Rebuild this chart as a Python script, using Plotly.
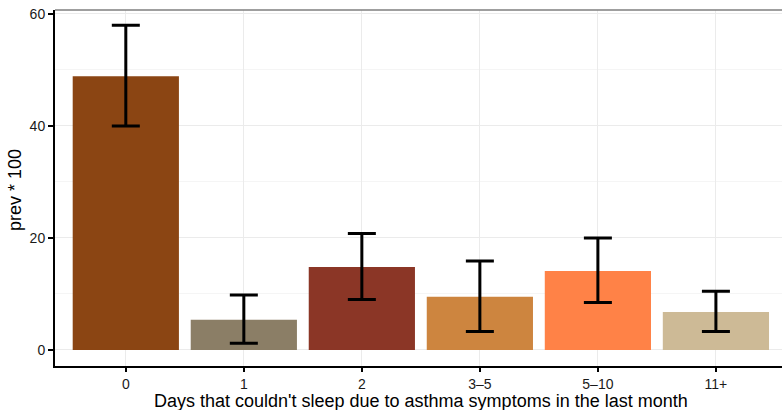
import plotly.graph_objects as go

categories = ["0", "1", "2", "3\u20135", "5\u201310", "11+"]
prev = [48.9, 5.4, 14.8, 9.5, 14.1, 6.8]
lower = [40.0, 1.2, 9.0, 3.3, 8.5, 3.3]
upper = [58.0, 9.8, 20.8, 15.9, 20.0, 10.5]
colors = ["#8B4513", "#8B7E66", "#8B3626", "#CD853F", "#FF8247", "#CDBA96"]

err_plus = [u - p for u, p in zip(upper, prev)]
err_minus = [p - l for p, l in zip(prev, lower)]

fig = go.Figure()
fig.add_trace(go.Bar(
    x=list(range(len(categories))), y=prev,
    marker=dict(color=colors, line=dict(width=0)),
    width=0.9,
    error_y=dict(type="data", symmetric=False, array=err_plus, arrayminus=err_minus,
                 color="black", thickness=3, width=14),
    showlegend=False,
))

font_family = "Liberation Sans, Arial, sans-serif"
fig.update_layout(
    width=782, height=410,
    margin=dict(l=55, r=0, t=10, b=44, autoexpand=False),
    plot_bgcolor="white", paper_bgcolor="white",
    font=dict(family=font_family, size=14, color="#1a1a1a"),
    xaxis=dict(
        range=[-0.6, 5.56], automargin=False,
        tickmode="array", tickvals=list(range(len(categories))), ticktext=categories,
        showgrid=True, gridcolor="#ebebeb", gridwidth=1,
        showline=True, linecolor="black", linewidth=2,
        ticks="outside", ticklen=4, tickwidth=1.5, tickcolor="black",
        zeroline=False,
        tickfont=dict(size=14, color="#1a1a1a"),
    ),
    yaxis=dict(
        range=[-2.86, 60.71], automargin=False,
        tickmode="array", tickvals=[0, 20, 40, 60],
        showgrid=True, gridcolor="#ebebeb", gridwidth=1,
        minor=dict(tickvals=[10, 30, 50], showgrid=True, gridcolor="#f5f5f5", gridwidth=1, ticks=""),
        showline=True, linecolor="black", linewidth=2,
        ticks="outside", ticklen=5, tickwidth=1.5, tickcolor="black",
        zeroline=False,
        tickfont=dict(size=14, color="#1a1a1a"),
    ),
    shapes=[dict(type="line", xref="paper", yref="paper", x0=0, x1=1, y0=1, y1=1,
                 line=dict(color="#7f7f7f", width=1.5))],
    annotations=[
        dict(text="Days that couldn't sleep due to asthma symptoms in the last month",
             xref="paper", yref="paper", x=(421 - 55) / 727, y=-35 / 356,
             xanchor="center", yanchor="middle", showarrow=False,
             font=dict(size=18, color="black")),
        dict(text="prev * 100", xref="paper", yref="paper", x=-40 / 727, y=(366 - 190) / 356,
             xanchor="center", yanchor="middle", showarrow=False, textangle=-90,
             font=dict(size=18, color="black")),
    ],
)

fig.write_html("out.html", config={"displayModeBar": False},
               post_script="document.body.style.margin='0';document.body.style.overflow='hidden';")
